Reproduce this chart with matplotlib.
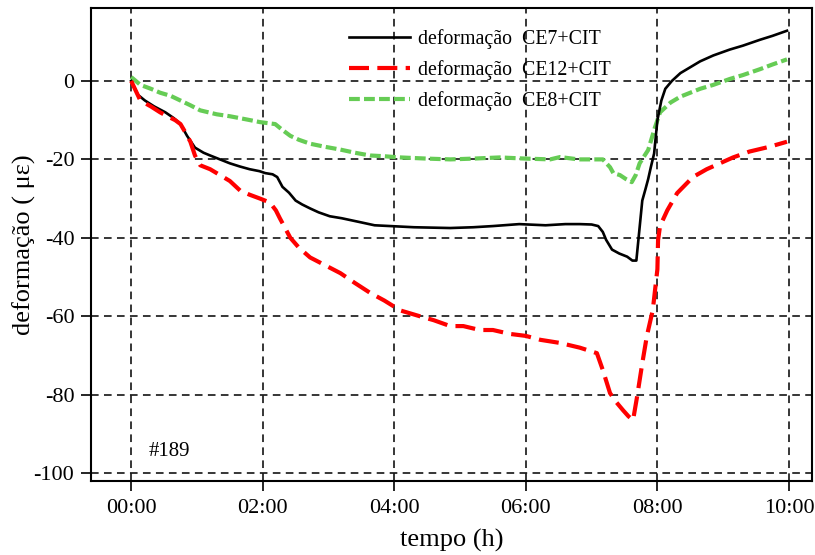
import matplotlib
matplotlib.use("Agg")
import matplotlib.pyplot as plt

plt.rcParams['font.family'] = ['Liberation Serif', 'DejaVu Serif']
plt.rcParams['axes.unicode_minus'] = False

# CE7+CIT (black)
t_ce7 = [0.0, 0.1, 0.21, 0.35, 0.52, 0.65, 0.75, 0.85, 0.97, 1.1, 1.2, 1.35, 1.5, 1.65, 1.8, 1.95, 2.04, 2.15, 2.22,
         2.3, 2.4, 2.5, 2.6, 2.72, 2.85, 3.02, 3.2, 3.48, 3.7, 3.94, 4.3, 4.85, 5.2, 5.5, 5.9, 6.3, 6.6, 6.82, 7.0, 7.1,
         7.17, 7.22, 7.31, 7.42, 7.54, 7.62, 7.68, 7.72, 7.77, 7.82, 7.86, 7.9, 7.95, 8.0, 8.06, 8.12, 8.22, 8.35,
         8.5, 8.65, 8.85, 9.1, 9.3, 9.56, 9.75, 9.97]
v_ce7 = [0.0, -3.5, -5.0, -6.5, -8.0, -9.5, -11.0, -14.0, -17.0, -18.3, -19.0, -20.0, -21.0, -21.8, -22.5, -23.0,
         -23.5, -23.8, -24.5, -27.0, -28.5, -30.5, -31.5, -32.5, -33.5, -34.5, -35.0, -36.0, -36.8, -37.0, -37.3,
         -37.5, -37.3, -37.0, -36.5, -36.8, -36.5, -36.5, -36.6, -37.0, -38.5, -40.5, -43.0, -44.0, -44.8, -45.8,
         -45.8, -39.0, -30.5, -27.5, -25.0, -22.0, -18.5, -10.0, -5.0, -2.0, 0.0, 2.0, 3.5, 5.0, 6.5, 8.0, 9.0,
         10.5, 11.5, 12.8]

# CE12+CIT (red)
t_ce12 = [0.0, 0.14, 0.3, 0.44, 0.55, 0.67, 0.75, 0.82, 0.9, 0.97, 1.05, 1.2, 1.35, 1.5, 1.66, 1.8, 1.96, 2.11,
          2.2, 2.26, 2.34, 2.42, 2.55, 2.72, 2.95, 3.18, 3.4, 3.63, 3.85, 4.09, 4.39, 4.6, 4.85, 5.05, 5.3, 5.5,
          5.76, 6.0, 6.22, 6.52, 6.82, 7.08, 7.17, 7.28, 7.38, 7.48, 7.56, 7.63, 7.69, 7.77, 7.84, 7.93, 8.0, 8.01,
          8.04, 8.15, 8.3, 8.54, 8.75, 8.95, 9.15, 9.4, 9.7, 9.97]
v_ce12 = [0.0, -5.0, -6.5, -8.0, -9.0, -10.0, -11.0, -13.0, -15.5, -19.0, -21.5, -22.5, -24.0, -25.5, -28.0,
          -29.0, -30.0, -31.0, -33.0, -35.0, -37.5, -40.0, -42.5, -45.0, -47.0, -49.0, -51.5, -54.0, -56.0, -58.5,
          -60.0, -61.0, -62.5, -62.5, -63.5, -63.5, -64.5, -65.0, -66.0, -66.8, -68.0, -69.4, -73.7, -79.6, -82.0,
          -84.0, -85.5, -86.5, -80.6, -72.0, -65.0, -58.4, -48.0, -40.6, -37.0, -33.0, -28.6, -24.5, -22.5, -21.0,
          -19.5, -18.0, -16.8, -15.5]

# CE8+CIT (green)
t_ce8 = [0.0, 0.14, 0.3, 0.44, 0.6, 0.75, 0.9, 1.05, 1.3, 1.5, 1.75, 1.96, 2.19, 2.3, 2.42, 2.55, 2.72, 2.95, 3.18,
         3.4, 3.63, 3.85, 4.09, 4.5, 4.85, 5.2, 5.6, 6.0, 6.37, 6.52, 6.8, 7.13, 7.17, 7.28, 7.33, 7.43, 7.52, 7.61,
         7.67, 7.73, 7.86, 7.96, 8.04, 8.2, 8.35, 8.5, 8.65, 8.85, 9.1, 9.3, 9.56, 9.75, 9.97]
v_ce8 = [1.0, -1.0, -2.0, -3.0, -3.8, -5.0, -6.2, -7.5, -8.5, -9.0, -9.8, -10.5, -11.0, -12.5, -14.0, -15.0,
         -16.0, -16.8, -17.5, -18.3, -19.0, -19.2, -19.5, -19.8, -20.0, -19.8, -19.5, -19.8, -20.0, -19.4, -20.0,
         -20.0, -20.0, -22.0, -23.5, -24.0, -25.0, -25.8, -24.0, -21.0, -17.6, -12.0, -8.0, -5.5, -4.0, -3.0, -2.0,
         -1.0, 0.5, 1.5, 3.0, 4.2, 5.5]

x_ticks = [0, 2, 4, 6, 8, 10]
x_ticklabels = ["00:00", "02:00", "04:00", "06:00", "08:00", "10:00"]
y_ticks = [0, -20, -40, -60, -80, -100]

fig = plt.figure(figsize=(8.15, 5.55), dpi=100)
ax = fig.add_axes([0.1117, 0.1333, 0.8846, 0.8523])

for x in x_ticks:
    ax.axvline(x, color='black', lw=1.1, ls=(0, (5, 3.5)), zorder=1)
for y in y_ticks:
    ax.axhline(y, color='black', lw=1.1, ls=(0, (5, 3.5)), zorder=1)

ax.plot(t_ce7, v_ce7, color='black', lw=1.9, label='deformação  CE7+CIT', zorder=3)
ax.plot(t_ce12, v_ce12, color='#ff0000', lw=3.0, ls=(0, (4.8, 2.0)), label='deformação  CE12+CIT', zorder=3)
ax.plot(t_ce8, v_ce8, color='#66cc55', lw=3.0, ls=(0, (2.6, 1.0)), label='deformação  CE8+CIT', zorder=2)

ax.set_xlim(-0.61, 10.35)
ax.set_ylim(-102, 18.6)
ax.set_xticks(x_ticks)
ax.set_xticklabels(x_ticklabels)
ax.set_yticks(y_ticks)
ax.tick_params(direction='out', length=7, width=1.2, labelsize=16, colors='black', pad=5)
ax.tick_params(axis='x', pad=6)
for s in ax.spines.values():
    s.set_linewidth(1.5)

ax.set_xlabel('tempo (h)', fontsize=19, labelpad=8)
ax.set_ylabel('deformação ( με)', fontsize=19, labelpad=-2)

ax.text(0.27, -94.6, '#189', fontsize=15, va='center', ha='left')

leg = ax.legend(loc='upper left', bbox_to_anchor=(0.338, 0.984), frameon=False, fontsize=14.3,
                handlelength=3.1, handletextpad=0.4, labelspacing=0.55, borderpad=0.2)

fig.savefig('out.png', dpi=100)
